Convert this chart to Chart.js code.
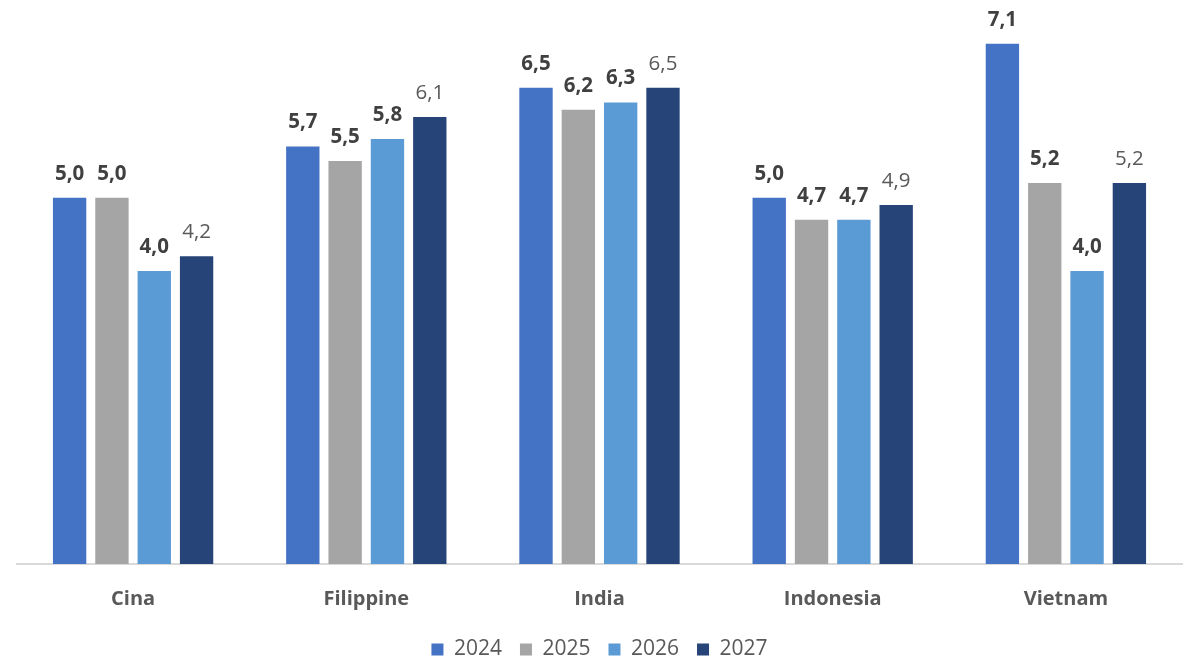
<!DOCTYPE html>
<html>
<head>
<meta charset="utf-8">
<script src="https://cdn.jsdelivr.net/npm/chart.js@4.4.1/dist/chart.umd.min.js"></script>
<style>
  html, body { margin: 0; padding: 0; background: #ffffff; }
  #wrap { width: 1183px; height: 661px; position: relative; }
</style>
</head>
<body>
<div id="wrap"><canvas id="chart"></canvas></div>
<script>
// Growth figures per country, one array per year
const categories = ['Cina', 'Filippine', 'India', 'Indonesia', 'Vietnam'];
const years = ['2024', '2025', '2026', '2027'];
const values2024 = [5.0, 5.7, 6.5, 5.0, 7.1];
const values2025 = [5.0, 5.5, 6.2, 4.7, 5.2];
const values2026 = [4.0, 5.8, 6.3, 4.7, 4.0];
const values2027 = [4.2, 6.1, 6.5, 4.9, 5.2];

const seriesValues = [values2024, values2025, values2026, values2027];
const seriesColors = ['#4472C4', '#A5A5A5', '#5B9BD5', '#264478'];
const labelWeights = ['bold', 'bold', 'bold', 'normal'];
const labelColors = ['#404040', '#404040', '#404040', '#595959'];

const FONT = "'Open Sans', 'DejaVu Sans', sans-serif";

// Value labels above each bar, decimal comma
const valueLabels = {
  id: 'valueLabels',
  afterDatasetsDraw(chart) {
    const ctx = chart.ctx;
    ctx.save();
    ctx.textAlign = 'center';
    ctx.textBaseline = 'alphabetic';
    chart.data.datasets.forEach((ds, di) => {
      const meta = chart.getDatasetMeta(di);
      ctx.font = labelWeights[di] + ' 20.5px ' + FONT;
      ctx.fillStyle = labelColors[di];
      meta.data.forEach((bar, i) => {
        const txt = ds.data[i].toFixed(1).replace('.', ',');
        ctx.fillText(txt, bar.x, bar.y - 18);
      });
    });
    ctx.restore();
  }
};

new Chart(document.getElementById('chart'), {
  type: 'bar',
  data: {
    labels: categories,
    datasets: years.map((y, i) => ({
      label: y,
      data: seriesValues[i],
      backgroundColor: seriesColors[i],
      borderWidth: 0,
      categoryPercentage: 0.726,
      barPercentage: 0.788
    }))
  },
  options: {
    responsive: true,
    maintainAspectRatio: false,
    animation: false,
    layout: { padding: { top: 14.5, left: 16.5, right: 0.5, bottom: -9 } },
    scales: {
      x: {
        grid: { display: false, drawTicks: false },
        border: { display: true, color: '#D9D9D9', width: 2 },
        ticks: {
          color: '#595959',
          font: { family: FONT, size: 20, weight: 'bold' },
          padding: 23
        },
        afterFit(scale) { scale.height = 57; }
      },
      y: {
        display: false,
        min: 0,
        max: 7.5
      }
    },
    plugins: {
      legend: {
        position: 'bottom',
        labels: {
          boxWidth: 12,
          boxHeight: 12,
          padding: 18,
          color: '#595959',
          font: { family: FONT, size: 21 }
        }
      },
      tooltip: { enabled: false }
    }
  },
  plugins: [valueLabels]
});
</script>
</body>
</html>
